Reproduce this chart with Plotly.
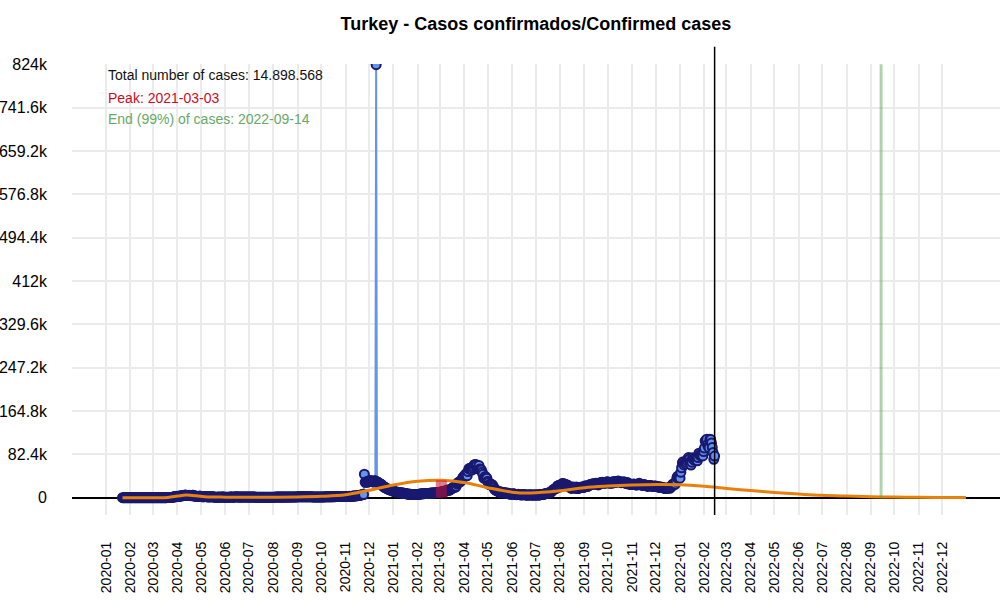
import pandas as pd
import plotly.graph_objects as go

# ---------------------------------------------------------------------------
# Daily confirmed cases (thousands), one list per month
# ---------------------------------------------------------------------------

jan20 = [0, 0, 0, 0, 0, 0, 0, 0, 0, 0]  # from 2020-01-22
feb20 = [0, 0, 0, 0, 0, 0, 0, 0, 0, 0, 0, 0, 0, 0, 0, 0, 0, 0, 0, 0,
         0, 0, 0, 0, 0, 0, 0, 0, 0]
mar20 = [0, 0, 0, 0, 0, 0, 0, 0, 0, 0,
         0.001, 0, 0.004, 0, 0.001, 0.012, 0.029, 0.051, 0.093, 0.168,
         0.311, 0.277, 0.289, 0.293, 0.343, 0.561, 1.196, 2.069, 1.815, 1.610,
         2.704]
apr20 = [2.15, 2.46, 2.79, 3.01, 3.14, 3.15, 3.89, 4.12, 4.06, 4.75,
         5.14, 4.79, 4.09, 4.06, 4.28, 4.80, 4.35, 3.78, 3.98, 4.67,
         4.61, 3.08, 3.12, 3.12, 2.86, 2.36, 2.13, 2.39, 2.94, 2.62]
may20 = [2.19, 1.98, 1.67, 1.61, 1.83, 2.25, 1.98, 1.85, 1.55, 1.54,
         1.11, 1.70, 1.64, 1.64, 1.61, 1.71, 1.37, 1.16, 1.02, 0.97,
         0.96, 0.95, 1.19, 1.14, 0.99, 0.95, 1.19, 1.18, 1.04, 1.14,
         0.84]
jun20 = [0.83, 0.79, 0.87, 0.99, 0.93, 0.88, 1.14, 1.19, 1.20, 1.04,
         0.92, 0.99, 1.46, 1.56, 1.59, 1.43, 1.30, 1.21, 1.25, 1.21,
         1.25, 1.29, 1.29, 1.46, 1.49, 1.40, 1.21, 1.37, 1.36, 1.29]
jul20 = [1.19, 1.22, 1.15, 1.09, 1.04, 1.08, 1.09, 1.05, 1.02, 1.01,
         1.01, 1.02, 1.01, 0.99, 0.93, 0.94, 0.93, 0.92, 0.91, 0.94,
         0.93, 0.93, 0.92, 0.93, 0.91, 0.92, 0.94, 0.92, 0.96, 0.97,
         0.98]
aug20 = [0.99, 1.02, 0.98, 1.08, 1.13, 1.14, 1.15, 1.18, 1.21, 1.18,
         1.18, 1.24, 1.24, 1.26, 1.23, 1.26, 1.25, 1.30, 1.29, 1.31,
         1.31, 1.24, 1.22, 1.31, 1.38, 1.42, 1.45, 1.42, 1.45, 1.47,
         1.50]
sep20 = [1.51, 1.60, 1.60, 1.67, 1.65, 1.69, 1.70, 1.72, 1.68, 1.70,
         1.69, 1.67, 1.65, 1.63, 1.57, 1.58, 1.58, 1.51, 1.53, 1.50,
         1.49, 1.46, 1.45, 1.47, 1.46, 1.44, 1.43, 1.43, 1.42, 1.39]
oct20 = [1.39, 1.42, 1.45, 1.44, 1.46, 1.59, 1.62, 1.56, 1.59, 1.61,
         1.58, 1.60, 1.58, 1.59, 1.69, 1.77, 1.84, 1.86, 1.88, 1.98,
         2.02, 2.10, 2.08, 2.08, 2.11, 2.13, 2.15, 2.19, 2.34, 2.34,
         2.44]
nov20 = [2.41, 2.11, 2.16, 2.30, 2.39, 2.50, 2.40, 2.44, 2.55, 2.68,
         3.05, 3.32, 3.38, 3.39, 3.59, 3.82, 4.15, 4.12, 4.60, 4.81,
         5.10, 5.46, 5.82, 6.02, 44.5, 29.1, 29.8, 30.1, 29.3, 31.2]
dec20 = [32.1, 31.9, 32.4, 31.9, 30.4, 30.4, 29.6, 32.7, 31.0, 823.2,
         30.4, 29.6, 28.0, 27.2, 26.5, 25.8, 24.6, 22.9, 21.4, 20.3,
         19.8, 18.7, 17.9, 17.0, 16.1, 15.8, 15.0, 14.7, 14.1, 14.1,
         14.2]
jan21 = [12.2, 11.9, 11.2, 10.9, 10.6, 10.3, 10.2, 10.0, 9.8, 9.5,
         9.2, 9.0, 8.8, 8.6, 8.2, 8.0, 7.8, 7.2, 6.9, 6.8,
         6.6, 6.5, 6.4, 6.2, 6.1, 6.0, 6.0, 5.9, 5.9, 5.8,
         6.1]
feb21 = [6.1, 6.3, 6.6, 6.9, 7.2, 7.3, 7.4, 7.5, 7.6, 7.7,
         7.8, 7.9, 8.0, 8.1, 7.8, 8.3, 8.5, 8.7, 8.9, 9.0,
         9.0, 9.0, 9.2, 9.5, 9.9, 9.8, 9.8, 9.7]
mar21 = [9.9, 10.0, 11.3, 11.5, 11.6, 11.4, 11.6, 11.9, 13.1, 14.6,
         14.2, 13.8, 14.0, 15.0, 16.1, 16.7, 18.0, 19.3, 20.0, 19.6,
         20.2, 21.6, 26.2, 28.3, 29.0, 29.8, 30.0, 32.0, 33.3, 37.3,
         39.3]
apr21 = [40.8, 42.3, 44.8, 41.5, 41.8, 49.6, 54.7, 55.9, 54.7, 53.7,
         52.6, 55.8, 59.2, 62.8, 62.6, 63.1, 61.0, 54.8, 55.6, 61.0,
         54.7, 53.9, 52.7, 48.3, 44.4, 37.1, 37.3, 40.4, 38.0, 37.0]
may21 = [31.0, 28.8, 24.7, 25.0, 26.2, 25.2, 24.3, 21.6, 18.9, 15.7,
         14.7, 13.6, 12.9, 12.7, 11.2, 10.7, 9.7, 10.6, 10.1, 10.0,
         10.0, 9.6, 8.8, 8.2, 8.4, 9.0, 7.7, 7.8, 7.2, 6.3,
         6.7]
jun21 = [7.2, 7.5, 7.1, 6.9, 6.4, 5.8, 5.6, 6.1, 6.4, 6.2,
         5.7, 5.4, 5.3, 5.5, 5.7, 5.6, 5.8, 5.3, 5.1, 4.8,
         5.2, 5.3, 5.3, 5.3, 5.4, 5.2, 4.8, 5.3, 5.0, 5.1]
jul21 = [5.3, 5.2, 5.4, 5.0, 4.9, 5.3, 5.6, 6.1, 5.9, 5.9,
         6.1, 6.8, 7.6, 7.6, 8.0, 8.6, 8.5, 9.4, 9.8, 10.2,
         11.1, 12.4, 14.2, 15.6, 16.3, 17.0, 17.2, 18.6, 22.3, 22.8,
         23.6]
aug21 = [20.2, 22.3, 24.3, 26.8, 27.0, 25.8, 25.1, 25.4, 23.7, 24.3,
         23.4, 21.8, 20.4, 20.4, 18.2, 17.6, 19.9, 20.1, 18.9, 18.1,
         19.2, 20.4, 17.2, 17.2, 18.4, 18.7, 20.0, 19.6, 19.4, 19.1,
         19.2]
sep21 = [21.5, 22.3, 22.0, 21.8, 21.0, 22.0, 24.0, 24.0, 24.8, 25.3,
         25.5, 26.6, 26.0, 25.9, 25.7, 27.6, 26.2, 26.1, 24.2, 25.7,
         28.3, 28.0, 28.8, 29.2, 28.4, 27.3, 27.7, 27.5, 29.8, 29.4]
oct21 = [30.2, 28.3, 27.8, 27.5, 27.9, 29.0, 27.5, 30.5, 29.1, 30.0,
         28.6, 30.7, 30.4, 31.7, 31.0, 30.2, 29.9, 28.5, 28.6, 30.0,
         30.0, 29.9, 29.2, 27.0, 26.6, 28.6, 27.5, 26.0, 25.8, 25.2,
         24.9]
nov21 = [25.2, 25.0, 26.0, 25.5, 25.1, 24.3, 23.9, 25.6, 26.6, 27.2,
         26.0, 25.5, 24.7, 23.1, 24.2, 25.1, 24.4, 23.4, 22.8, 22.3,
         21.4, 23.1, 22.5, 23.1, 22.5, 22.0, 21.7, 21.0, 22.1, 21.7]
dec21 = [22.4, 21.0, 21.0, 20.8, 19.5, 20.2, 20.2, 19.7, 19.7, 19.4,
         18.6, 17.6, 18.0, 18.4, 17.6, 17.8, 18.8, 18.9, 17.7, 20.0,
         20.6, 23.6, 26.0, 25.8, 24.8, 25.9, 31.0, 37.9, 40.9, 36.7,
         40.8]
jan22 = [37.0, 48.1, 56.9, 66.4, 68.4, 62.2, 67.0, 64.2, 67.2, 70.7,
         74.3, 76.4, 73.7, 67.9, 62.0, 67.4, 75.7, 73.2, 71.6, 74.6,
         73.0, 76.0, 70.0, 76.3, 84.6, 81.0, 80.4, 79.6, 83.0, 79.4,
         87.6]
feb22 = [94.3, 108.0, 106.6, 111.2, 101.0, 97.0, 95.0, 111.0, 110.6, 104.0,
         95.6, 86.0, 73.0, 79.0]

# fitted curve (thousands), orange line
fit_dates = ["2020-01-22", "2020-03-01", "2020-03-20", "2020-04-01", "2020-04-12",
             "2020-04-25", "2020-05-10", "2020-06-01", "2020-07-01", "2020-08-01",
             "2020-09-01", "2020-10-01", "2020-11-01", "2020-12-01", "2021-01-01",
             "2021-02-01", "2021-03-03", "2021-04-01", "2021-05-01", "2021-06-01",
             "2021-06-25", "2021-08-01", "2021-09-01", "2021-10-01", "2021-11-01",
             "2021-12-01", "2022-01-01", "2022-02-01", "2022-03-01", "2022-04-01",
             "2022-05-01", "2022-06-01", "2022-07-01", "2022-08-01", "2022-09-01",
             "2022-10-01", "2022-11-01", "2022-12-01", "2022-12-31"]
fit_k = [0, 0, 0.5, 3.0, 5.0, 3.5, 1.5, 1.0, 1.0, 1.0,
         1.3, 2.5, 5.5, 14, 24, 31, 33, 29, 19, 10.5,
         8.8, 13, 19, 22, 24, 25, 24.5, 21.5, 17.5, 13.5,
         10, 7, 4.5, 3, 1.8, 1.1, 0.6, 0.3, 0.1]

total_cases = "14.898.568"
peak_date = "2021-03-03"
peak_k = 33
end_date = "2022-09-14"
last_date = "2022-02-14"
y_max = 824000

month_ticks = pd.date_range("2020-01-01", "2022-12-01", freq="MS")

# ---------------------------------------------------------------------------

monthly = [
    ("2020-01-22", jan20), ("2020-02-01", feb20), ("2020-03-01", mar20),
    ("2020-04-01", apr20), ("2020-05-01", may20), ("2020-06-01", jun20),
    ("2020-07-01", jul20), ("2020-08-01", aug20), ("2020-09-01", sep20),
    ("2020-10-01", oct20), ("2020-11-01", nov20), ("2020-12-01", dec20),
    ("2021-01-01", jan21), ("2021-02-01", feb21), ("2021-03-01", mar21),
    ("2021-04-01", apr21), ("2021-05-01", may21), ("2021-06-01", jun21),
    ("2021-07-01", jul21), ("2021-08-01", aug21), ("2021-09-01", sep21),
    ("2021-10-01", oct21), ("2021-11-01", nov21), ("2021-12-01", dec21),
    ("2022-01-01", jan22), ("2022-02-01", feb22),
]
dates, cases = [], []
for start, vals in monthly:
    dates.extend(pd.date_range(start, periods=len(vals), freq="D"))
    cases.extend(v * 1000 for v in vals)

fig = go.Figure()
fig.add_trace(go.Scatter(
    x=dates, y=cases, mode="lines+markers",
    line=dict(color="#6495ED", width=2),
    marker=dict(size=9, color="#6495ED", line=dict(color="#191970", width=2)),
    name="Casos",
))
fig.add_trace(go.Scatter(
    x=fit_dates, y=[v * 1000 for v in fit_k], mode="lines",
    line=dict(color="#e8800a", width=3, shape="spline"),
    name="Fit",
))

peak = pd.Timestamp(peak_date)
fig.add_shape(type="rect", xref="x", yref="y",
              x0=peak - pd.Timedelta(days=7), x1=peak + pd.Timedelta(days=7),
              y0=0, y1=peak_k * 1000,
              fillcolor="rgba(200,16,46,0.55)", line_width=0)
fig.add_shape(type="line", xref="x", yref="y",
              x0=end_date, x1=end_date, y0=0, y1=y_max,
              line=dict(color="rgba(76,160,76,0.45)", width=3))
fig.add_shape(type="line", xref="x", yref="paper",
              x0=last_date, x1=last_date, y0=0, y1=1.038,
              line=dict(color="black", width=1.5))

notes = [
    (f"Total number of cases: {total_cases}", "#111111", 0.9756),
    (f"Peak: {peak_date}", "#cc0b25", 0.9246),
    (f"End (99%) of cases: {end_date}", "#66aa66", 0.878),
]
for text, color, ypos in notes:
    fig.add_annotation(text=text, xref="x", yref="paper", x="2020-01-01", y=ypos,
                       xanchor="left", yanchor="middle", showarrow=False,
                       font=dict(size=14, color=color))

fig.update_layout(
    width=1000, height=600,
    margin=dict(l=72, r=0, t=64, b=85, autoexpand=False),
    font=dict(family="Liberation Sans, Arial, sans-serif", color="black"),
    paper_bgcolor="white", plot_bgcolor="white",
    showlegend=False,
    title=dict(text="<b>Turkey - Casos confirmados/Confirmed cases</b>",
               x=0.5, xref="paper", y=1 - 24 / 600, yref="container",
               yanchor="middle", font=dict(size=18, color="black")),
)
fig.update_xaxes(
    range=["2019-11-18 17:00", "2023-02-12 10:00"],
    tickvals=month_ticks, ticktext=[d.strftime("%Y-%m") for d in month_ticks],
    tickangle=-90, tickfont=dict(size=14), automargin=False,
    showgrid=True, gridcolor="#ebebeb", gridwidth=1.5,
    zeroline=False, showline=False, ticks="", ticklabelstandoff=23,
)
fig.update_yaxes(
    range=[-0.04 * y_max, y_max + 500],
    tick0=0, dtick=y_max / 10, tickformat="~s", tickfont=dict(size=16),
    automargin=False,
    showgrid=True, gridcolor="#ebebeb", gridwidth=1.5,
    zeroline=True, zerolinecolor="black", zerolinewidth=1.5,
    showline=False, ticks="", ticklabelstandoff=24,
)

# drop the default page margin so the figure fills the window exactly
fig.write_html("out.html", config={"displayModeBar": False},
               post_script="document.body.style.margin = '0';")
